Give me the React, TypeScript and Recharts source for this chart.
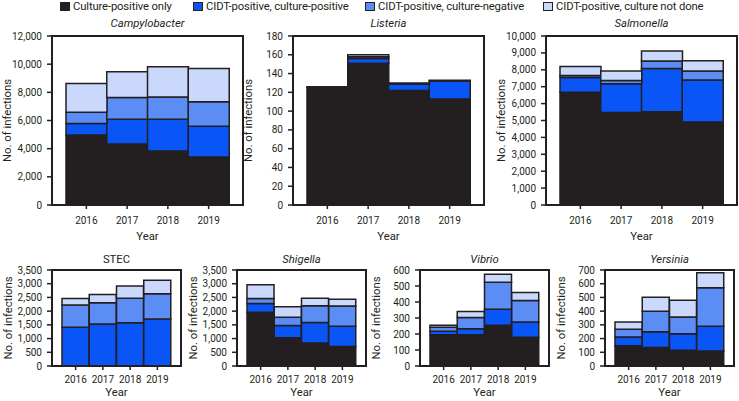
import { BarChart, Bar, XAxis, YAxis } from 'recharts'

const YEARS = ['2016', '2017', '2018', '2019']

const SERIES_NAMES = [
  'Culture-positive only',
  'CIDT-positive, culture-positive',
  'CIDT-positive, culture-negative',
  'CIDT-positive, culture not done',
]

// rows follow SERIES_NAMES, columns follow YEARS
const CAMPYLOBACTER = [
  [4970, 4330, 3830, 3410],
  [810, 1750, 2250, 2180],
  [800, 1560, 1590, 1750],
  [2040, 1830, 2150, 2360],
]
const LISTERIA = [
  [125, 151, 122, 113],
  [1, 5, 7, 19],
  [0, 2, 1, 1],
  [0, 2, 0, 0],
]
const SALMONELLA = [
  [6670, 5480, 5520, 4910],
  [870, 1700, 2550, 2490],
  [120, 180, 450, 530],
  [530, 570, 590, 610],
]
const STEC = [
  [0, 0, 0, 0],
  [1410, 1530, 1580, 1710],
  [810, 780, 890, 920],
  [240, 300, 450, 500],
]
const SHIGELLA = [
  [1960, 1030, 840, 710],
  [320, 450, 750, 740],
  [180, 300, 610, 740],
  [500, 380, 270, 240],
]
const VIBRIO = [
  [195, 195, 254, 180],
  [22, 38, 100, 95],
  [25, 70, 170, 135],
  [13, 37, 50, 50],
]
const YERSINIA = [
  [147, 135, 115, 110],
  [65, 114, 120, 180],
  [56, 150, 122, 280],
  [52, 103, 123, 110],
]

const TICKS_CAMPY = [0, 2000, 4000, 6000, 8000, 10000, 12000]
const TICKS_LISTERIA = [0, 20, 40, 60, 80, 100, 120, 140, 160, 180]
const TICKS_SALMONELLA = [0, 1000, 2000, 3000, 4000, 5000, 6000, 7000, 8000, 9000, 10000]
const TICKS_3500 = [0, 500, 1000, 1500, 2000, 2500, 3000, 3500]
const TICKS_VIBRIO = [0, 100, 200, 300, 400, 500, 600]
const TICKS_YERSINIA = [0, 100, 200, 300, 400, 500, 600, 700]

const COLORS = ['#231f20', '#0a55f5', '#5b8df5', '#c9d8fb']
const INK = '#231f20'
const FONT = 'Roboto, "Noto Sans", sans-serif'
const LABEL_SIZE = 11.3
const TICK_SIZE = 10
// left edge of each legend swatch
const LEGEND_LEFT = [60, 193, 365, 543]

const fmt = (v: number) => v.toLocaleString('en-US')

interface PanelProps {
  title: string
  italic?: boolean
  values: number[][]
  ticks: number[]
  x: number
  y: number
  w: number
  h: number
  pad: number
  big?: boolean
}

function Panel({ title, italic = true, values, ticks, x, y, w, h, pad, big = false }: PanelProps) {
  const L = 62
  const T = 4
  const R = 4
  const B = 42
  const rows = YEARS.map((year, i) => ({
    year,
    s0: values[0][i],
    s1: values[1][i],
    s2: values[2][i],
    s3: values[3][i],
  }))
  const yearGap = big ? 8 : 5.5
  const titleY = big ? y - 19.5 : y - 16.7

  return (
    <>
      <div style={{
        position: 'absolute',
        left: x,
        width: w,
        top: titleY,
        textAlign: 'center',
        fontSize: LABEL_SIZE,
        lineHeight: '13px',
        fontStyle: italic ? 'italic' : 'normal',
        fontWeight: 400,
        color: INK,
        whiteSpace: 'nowrap',
      }}>
        {title}
      </div>
      <div style={{ position: 'absolute', left: x - L, top: y - T }}>
        <BarChart
          width={w + L + R}
          height={h + T + B}
          data={rows}
          margin={{ top: T, right: R, bottom: 0, left: 0 }}
          barCategoryGap={0}
        >
          <XAxis
            dataKey="year"
            height={B}
            padding={{ left: pad, right: pad }}
            interval={0}
            tickSize={4}
            tickMargin={yearGap}
            axisLine={{ stroke: INK, strokeWidth: 2 }}
            tickLine={{ stroke: INK, strokeWidth: 1.5 }}
            tick={{ fill: INK, fontSize: TICK_SIZE }}
            label={(p: any) => (
              <text
                x={p.viewBox.x + p.viewBox.width / 2}
                y={p.viewBox.y + (big ? 34.5 : 30)}
                textAnchor="middle"
                fill={INK}
                fontSize={LABEL_SIZE}
              >
                Year
              </text>
            )}
          />
          <YAxis
            width={L}
            domain={[0, ticks[ticks.length - 1]]}
            ticks={ticks}
            interval={0}
            tickFormatter={fmt}
            tickSize={5}
            tickMargin={5}
            axisLine={{ stroke: INK, strokeWidth: 2 }}
            tickLine={{ stroke: INK, strokeWidth: 1.5 }}
            tick={{ fill: INK, fontSize: TICK_SIZE }}
            label={(p: any) => {
              const cx = p.viewBox.x + p.viewBox.width - (big ? 45 : 44)
              const cy = p.viewBox.y + p.viewBox.height / 2
              return (
                <text
                  x={cx}
                  y={cy}
                  transform={`rotate(-90 ${cx} ${cy})`}
                  textAnchor="middle"
                  dominantBaseline="central"
                  fill={INK}
                  fontSize={LABEL_SIZE}
                >
                  No. of infections
                </text>
              )
            }}
          />
          {SERIES_NAMES.map((name, i) => (
            <Bar
              key={name}
              name={name}
              dataKey={`s${i}`}
              stackId="a"
              fill={COLORS[i]}
              stroke={INK}
              strokeWidth={1.5}
              isAnimationActive={false}
            />
          ))}
        </BarChart>
      </div>
      {/* frame around the plot area */}
      <div style={{
        position: 'absolute',
        left: x - 1,
        top: y - 1,
        width: w + 2,
        height: h + 2,
        boxSizing: 'border-box',
        border: `2px solid ${INK}`,
        pointerEvents: 'none',
      }} />
    </>
  )
}

function TopLegend() {
  return (
    <>
      {SERIES_NAMES.map((name, i) => (
        <div key={name} style={{
          position: 'absolute',
          left: LEGEND_LEFT[i],
          top: 0,
          display: 'flex',
          alignItems: 'center',
          gap: 3,
          fontSize: LABEL_SIZE,
          letterSpacing: -0.15,
          color: INK,
          lineHeight: '13px',
          whiteSpace: 'nowrap',
        }}>
          <div style={{
            width: 10,
            height: 9,
            boxSizing: 'border-box',
            background: COLORS[i],
            border: `1.5px solid ${INK}`,
          }} />
          <span>{name}</span>
        </div>
      ))}
    </>
  )
}

export default function App() {
  return (
    <div style={{
      position: 'absolute',
      left: 0,
      top: 0,
      width: 739,
      height: 401,
      background: '#fff',
      fontFamily: FONT,
      overflow: 'hidden',
    }}>
      <TopLegend />
      <Panel big title="Campylobacter" values={CAMPYLOBACTER} ticks={TICKS_CAMPY} x={52} y={36} w={191} h={169} pad={14} />
      <Panel big title="Listeria" values={LISTERIA} ticks={TICKS_LISTERIA} x={293} y={36} w={191} h={169} pad={14} />
      <Panel big title="Salmonella" values={SALMONELLA} ticks={TICKS_SALMONELLA} x={546} y={36} w={191} h={169} pad={14} />
      <Panel title="STEC" italic={false} values={STEC} ticks={TICKS_3500} x={52} y={270} w={129} h={96} pad={10} />
      <Panel title="Shigella" values={SHIGELLA} ticks={TICKS_3500} x={237} y={270} w={129} h={96} pad={10} />
      <Panel title="Vibrio" values={VIBRIO} ticks={TICKS_VIBRIO} x={420} y={270} w={129} h={96} pad={10} />
      <Panel title="Yersinia" values={YERSINIA} ticks={TICKS_YERSINIA} x={605} y={270} w={129} h={96} pad={10} />
    </div>
  )
}
